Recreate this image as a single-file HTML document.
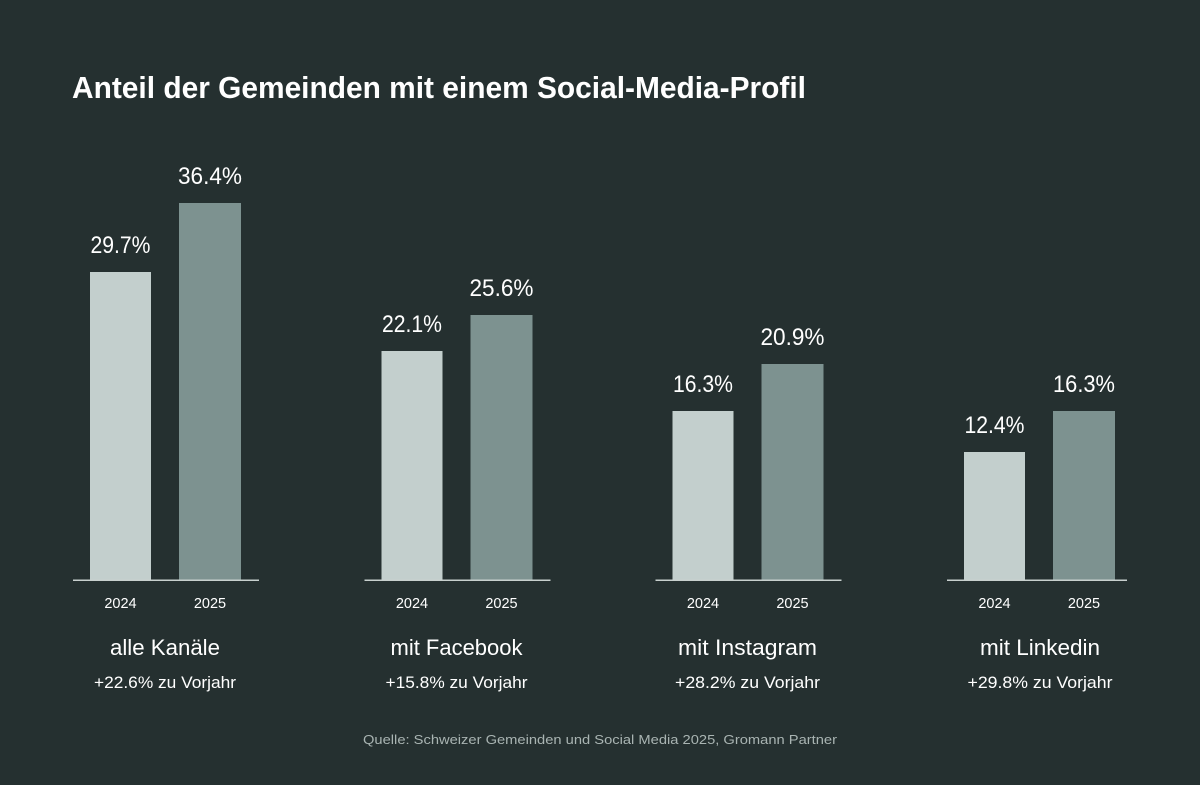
<!DOCTYPE html>
<html><head><meta charset="utf-8"><style>
html,body{margin:0;padding:0;background:#253030;}
svg{display:block;font-family:"Liberation Sans",sans-serif;}
</style></head><body>
<svg width="1200" height="785" viewBox="0 0 1200 785" xmlns="http://www.w3.org/2000/svg">
<rect width="1200" height="785" fill="#253030"/>
<text x="72" y="98" font-size="31" font-weight="bold" fill="#ffffff" textLength="734" lengthAdjust="spacingAndGlyphs">Anteil der Gemeinden mit einem Social-Media-Profil</text>

<g fill="#ffffff">
<!-- group 1 -->
<g transform="translate(0,0)">
<rect x="90" y="272" width="61" height="308" fill="#c3cfcd"/>
<rect x="179" y="203" width="62" height="377" fill="#7d9290"/>
<rect x="73" y="579.5" width="186" height="1.5" fill="#c8d0ce"/>
<text x="120.5" y="253" font-size="24" text-anchor="middle" textLength="60" lengthAdjust="spacingAndGlyphs">29.7%</text>
<text x="210" y="184" font-size="24" text-anchor="middle" textLength="64" lengthAdjust="spacingAndGlyphs">36.4%</text>
<text x="120.5" y="608" font-size="14.5" text-anchor="middle">2024</text>
<text x="210" y="608" font-size="14.5" text-anchor="middle">2025</text>
<text x="165" y="655" font-size="22" text-anchor="middle" textLength="110" lengthAdjust="spacingAndGlyphs">alle Kanäle</text>
<text x="165" y="688" font-size="17" text-anchor="middle" textLength="142" lengthAdjust="spacingAndGlyphs">+22.6% zu Vorjahr</text>
</g>
<g transform="translate(291.5,0)">
<rect x="90" y="351" width="61" height="229" fill="#c3cfcd"/>
<rect x="179" y="315" width="62" height="265" fill="#7d9290"/>
<rect x="73" y="579.5" width="186" height="1.5" fill="#c8d0ce"/>
<text x="120.5" y="332" font-size="24" text-anchor="middle" textLength="60" lengthAdjust="spacingAndGlyphs">22.1%</text>
<text x="210" y="296" font-size="24" text-anchor="middle" textLength="64" lengthAdjust="spacingAndGlyphs">25.6%</text>
<text x="120.5" y="608" font-size="14.5" text-anchor="middle">2024</text>
<text x="210" y="608" font-size="14.5" text-anchor="middle">2025</text>
<text x="165" y="655" font-size="22" text-anchor="middle" textLength="132" lengthAdjust="spacingAndGlyphs">mit Facebook</text>
<text x="165" y="688" font-size="17" text-anchor="middle" textLength="142" lengthAdjust="spacingAndGlyphs">+15.8% zu Vorjahr</text>
</g>
<g transform="translate(582.5,0)">
<rect x="90" y="411" width="61" height="169" fill="#c3cfcd"/>
<rect x="179" y="364" width="62" height="216" fill="#7d9290"/>
<rect x="73" y="579.5" width="186" height="1.5" fill="#c8d0ce"/>
<text x="120.5" y="392" font-size="24" text-anchor="middle" textLength="60" lengthAdjust="spacingAndGlyphs">16.3%</text>
<text x="210" y="345" font-size="24" text-anchor="middle" textLength="64" lengthAdjust="spacingAndGlyphs">20.9%</text>
<text x="120.5" y="608" font-size="14.5" text-anchor="middle">2024</text>
<text x="210" y="608" font-size="14.5" text-anchor="middle">2025</text>
<text x="165" y="655" font-size="22" text-anchor="middle" textLength="139" lengthAdjust="spacingAndGlyphs">mit Instagram</text>
<text x="165" y="688" font-size="17" text-anchor="middle" textLength="145" lengthAdjust="spacingAndGlyphs">+28.2% zu Vorjahr</text>
</g>
<g transform="translate(874,0)">
<rect x="90" y="452" width="61" height="128" fill="#c3cfcd"/>
<rect x="179" y="411" width="62" height="169" fill="#7d9290"/>
<rect x="73" y="579.5" width="180" height="1.5" fill="#c8d0ce"/>
<text x="120.5" y="433" font-size="24" text-anchor="middle" textLength="60" lengthAdjust="spacingAndGlyphs">12.4%</text>
<text x="210" y="392" font-size="24" text-anchor="middle" textLength="62" lengthAdjust="spacingAndGlyphs">16.3%</text>
<text x="120.5" y="608" font-size="14.5" text-anchor="middle">2024</text>
<text x="210" y="608" font-size="14.5" text-anchor="middle">2025</text>
<text x="166" y="655" font-size="22" text-anchor="middle" textLength="120" lengthAdjust="spacingAndGlyphs">mit Linkedin</text>
<text x="166" y="688" font-size="17" text-anchor="middle" textLength="145" lengthAdjust="spacingAndGlyphs">+29.8% zu Vorjahr</text>
</g>
</g>
<text x="363" y="744" font-size="13" fill="#a9b4b2" textLength="474" lengthAdjust="spacingAndGlyphs">Quelle: Schweizer Gemeinden und Social Media 2025, Gromann Partner</text>
</svg>
</body></html>
